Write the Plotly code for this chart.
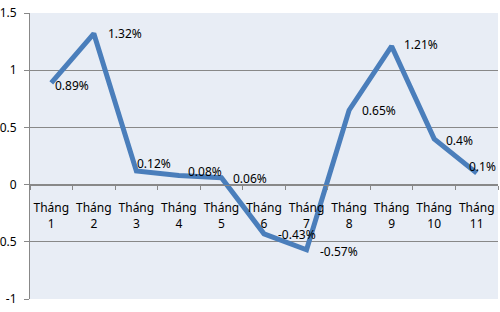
import plotly.graph_objects as go

categories = ["Tháng<br>1", "Tháng<br>2", "Tháng<br>3", "Tháng<br>4", "Tháng<br>5", "Tháng<br>6",
              "Tháng<br>7", "Tháng<br>8", "Tháng<br>9", "Tháng<br>10", "Tháng<br>11"]
values = [0.89, 1.32, 0.12, 0.08, 0.06, -0.43, -0.57, 0.65, 1.21, 0.4, 0.1]
labels = ["0.89%", "1.32%", "0.12%", "0.08%", "0.06%", "-0.43%", "-0.57%", "0.65%", "1.21%", "0.4%", "0.1%"]
ytick_vals = [-1, -0.5, 0, 0.5, 1, 1.5]
ytick_text = ["-1", "-0.5", "0", "0.5", "1", "1.5"]

# label offsets (pixels) for readability, style only
label_dx = [2, 12, -1, 7, 10, 12, 11, 11, 10, 10, -10]
label_dy = [-3, 0, 7, 4, -1, -1, -2, 0, 2, -2, 7]

FONT = "Noto Sans"

fig = go.Figure()
fig.add_trace(go.Scatter(
    x=categories, y=values, mode="lines",
    line=dict(color="#4A7EBB", width=5),
    hoverinfo="skip", showlegend=False,
))

for c, v, t, dx, dy in zip(categories, values, labels, label_dx, label_dy):
    fig.add_annotation(x=c, y=v, text=t, showarrow=False, xanchor="left", yanchor="middle",
                       xshift=dx, yshift=dy, font=dict(family=FONT, size=12, color="#000000"))

fig.update_layout(
    width=500, height=312,
    margin=dict(l=30, r=2, t=13, b=13, autoexpand=False),
    paper_bgcolor="#FFFFFF",
    plot_bgcolor="#E8EDF5",
    font=dict(family=FONT, size=12, color="#000000"),
    xaxis=dict(
        type="category", anchor="free", position=0.4,
        showgrid=False, showline=True, linecolor="#888888", linewidth=1,
        ticks="outside", tickson="boundaries", ticklen=4, tickcolor="#888888",
        ticklabelstandoff=12, tickangle=0, automargin=False,
        tickfont=dict(family=FONT, size=12), range=[-0.5, 10.5],
    ),
    yaxis=dict(
        range=[-1, 1.5], tickvals=ytick_vals, ticktext=ytick_text,
        showgrid=True, gridcolor="#888888", gridwidth=1,
        showline=True, linecolor="#888888", linewidth=1,
        ticks="outside", ticklen=5, tickcolor="#888888",
        ticklabelstandoff=5, automargin=False,
        zeroline=False, tickfont=dict(family=FONT, size=12),
    ),
)

fig.write_html("out.html")
